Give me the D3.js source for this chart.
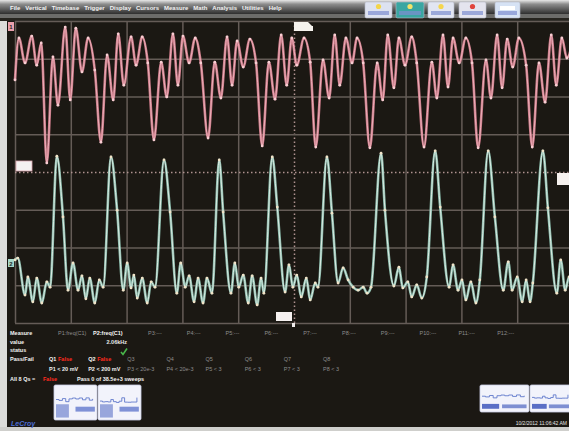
<!DOCTYPE html>
<html>
<head>
<meta charset="utf-8">
<script src="https://cdn.jsdelivr.net/npm/d3@7"></script>
<style>
  body { margin: 0; background: #1a1813; }
  svg { display: block; }
  text { font-family: "Liberation Sans", Arial, sans-serif; }
</style>
</head>
<body>
<svg id="scope" width="569" height="431"></svg>
<script>
// ---- Channel 1 (pink): time in divisions, amplitude in divisions ----
const c1Time = [0.00,0.07,0.18,0.30,0.39,0.47,0.57,0.68,0.77,0.90,0.99,1.09,1.20,1.31,1.43,1.54,
  1.65,1.76,1.85,1.95,2.08,2.17,2.28,2.38,2.49,2.62,2.72,2.83,2.92,3.01,3.12,3.23,3.33,
  3.46,3.58,3.69,3.80,3.89,3.98,4.09,4.21,4.32,4.43,4.55,4.66,4.77,4.87,4.96,5.05,5.18,5.29,
  5.39,5.52,5.63,5.73,5.82,5.93,6.04,6.13,6.24,6.36,6.49,6.59,6.68,6.79,6.88,6.99,7.11,7.20,
  7.33,7.47,7.56,7.67,7.76,7.85,7.96,8.08,8.19,8.30,8.44,8.53,8.64,8.73,8.82,8.92,9.03,9.16,
  9.27,9.39,9.50,9.61,9.70,9.80,9.89,10.00];
const c1Volts = [2.44,3.55,2.89,3.60,2.83,3.42,0.24,3.05,1.77,3.84,1.91,3.81,2.65,3.55,2.70,0.79,
  3.10,1.91,3.66,2.30,3.58,2.83,3.58,2.89,0.85,2.91,1.99,3.66,2.30,3.60,2.89,3.55,2.89,
  0.90,2.91,1.96,3.58,2.30,3.47,2.78,3.52,2.89,0.69,2.91,1.93,3.63,2.30,3.55,2.83,3.55,2.91,
  0.66,2.97,1.96,3.63,2.30,3.55,2.89,3.55,2.89,0.64,2.89,1.91,3.63,2.23,3.55,2.83,3.58,2.89,
  0.66,2.91,1.96,3.63,2.25,3.55,2.89,3.55,2.89,0.64,2.97,1.96,3.63,2.23,3.52,2.78,3.55,2.83,
  0.66,2.89,1.85,3.63,2.30,3.55,3.02,3.50];

// ---- Channel 2 (aqua): time in divisions, amplitude in divisions ----
const c2Time = [0.00,0.05,0.18,0.23,0.32,0.39,0.48,0.57,0.63,0.75,0.86,0.95,1.04,1.13,1.20,1.27,
  1.34,1.43,1.51,1.58,1.72,1.83,1.94,2.01,2.08,2.13,2.19,2.28,2.37,2.44,2.51,2.67,2.78,2.90,
  2.97,3.05,3.12,3.21,3.28,3.37,3.44,3.53,3.66,3.73,3.87,3.94,4.01,4.09,4.18,4.25,4.34,4.41,
  4.46,4.61,4.70,4.84,4.91,4.98,5.05,5.13,5.22,5.29,5.38,5.43,5.59,5.68,5.79,5.88,5.97,6.06,
  6.15,6.24,6.31,6.38,6.56,6.63,6.79,6.88,6.95,7.04,7.11,7.20,7.29,7.38,7.53,7.62,7.78,7.85,
  7.94,8.01,8.08,8.17,8.26,8.33,8.48,8.60,8.75,8.84,8.91,9.00,9.09,9.16,9.23,9.28,9.46,9.55,
  9.71,9.78,9.86,9.93,10.00];
const c2Volts = [-2.33,-2.28,-3.26,-2.78,-3.44,-2.81,-3.47,-2.91,-3.05,0.42,-1.19,-3.13,-2.41,-3.13,
  -2.75,-3.36,-2.81,-3.47,-2.86,-3.05,0.40,-1.01,-3.13,-2.41,-3.07,-2.73,-3.34,-2.81,-3.47,-2.91,
  -3.05,0.32,-1.06,-3.21,-2.41,-3.05,-2.75,-3.44,-2.81,-3.47,-2.81,-3.21,0.32,-1.06,-3.21,-2.41,
  -3.05,-2.73,-3.47,-2.75,-3.52,-2.81,-3.21,0.40,-0.93,-3.18,-2.46,-3.05,-2.73,-3.31,-2.81,-3.39,
  -2.94,-3.05,0.40,-1.09,-2.94,-2.54,-2.86,-3.05,-3.13,-3.05,-3.21,-3.05,0.50,-1.01,-3.02,-2.52,
  -3.07,-2.91,-3.31,-2.99,-3.34,-2.78,0.56,-0.93,-3.05,-2.46,-3.13,-2.86,-3.39,-2.91,-3.47,-2.86,
  0.56,-1.19,-3.13,-2.38,-3.13,-2.78,-3.44,-2.86,-3.44,-2.94,0.56,-0.95,-3.21,-2.33,-3.13,-2.78,-3.13];

// ---- Graticule divisions ----
const timeDivisions = d3.range(0, 11);
const voltDivisions = d3.range(-4, 5);

// ---- Menu and measurement panel text ----
const menuItems = ["File","Vertical","Timebase","Trigger","Display","Cursors","Measure","Math","Analysis","Utilities","Help"];
const measureParams = ["P1:freq(C1)","P2:freq(C1)","P3:---","P4:---","P5:---","P6:---","P7:---","P8:---","P9:---","P10:---","P11:---","P12:---"];
const measureValues = ["","2.06kHz","","","","","","","","","",""];
const passFailTests = ["Q1","Q2","Q3","Q4","Q5","Q6","Q7","Q8"];
const testResults = ["False","False","","","","","",""];
const testConditions = ["P1 < 20 mV","P2 < 200 mV","P3 < 20e-3","P4 < 20e-3","P5 < 3","P6 < 3","P7 < 3","P8 < 3"];
const rowLabels = ["Measure","value","status","Pass/Fail"];
const timestamp = "10/2/2012 11:06:42 AM";

const svg = d3.select("#scope");
const W = 569, H = 431;

// screen background
svg.append("rect").attr("width", W).attr("height", H).attr("fill", "#1b1813");

// left light frame strip and bottom edge
svg.append("rect").attr("x", 0).attr("y", 0).attr("width", 7).attr("height", H).attr("fill", "#dcdcda");
svg.append("rect").attr("x", 0).attr("y", 427).attr("width", W).attr("height", 4).attr("fill", "#cfcfcc");

// ---- Menu bar ----
const defs = svg.append("defs");
const mg = defs.append("linearGradient").attr("id", "menuGrad").attr("x1", 0).attr("x2", 0).attr("y1", 0).attr("y2", 1);
mg.append("stop").attr("offset", "0%").attr("stop-color", "#e8e8e8");
mg.append("stop").attr("offset", "30%").attr("stop-color", "#8c8c8c");
mg.append("stop").attr("offset", "100%").attr("stop-color", "#2e2e2e");
svg.append("rect").attr("x", 0).attr("y", 0).attr("width", W).attr("height", 14).attr("fill", "url(#menuGrad)");
svg.append("rect").attr("x", 0).attr("y", 14).attr("width", W).attr("height", 4).attr("fill", "#6c6c6a");
svg.append("rect").attr("x", 0).attr("y", 18).attr("width", W).attr("height", 3).attr("fill", "#26241f");

const menuG = svg.append("g");
let mx = 10;
menuItems.forEach(m => {
  const t = menuG.append("text").attr("x", mx).attr("y", 10)
    .attr("font-size", 6).attr("font-weight", "bold").attr("fill", "#f4f4f4").text(m);
  mx += t.node().getComputedTextLength() + 5;
});

// toolbar icons
const icons = [
  {x: 365, w: 27, bg: "#dde2f0", dot: "#f3d54a"},
  {x: 396, w: 28, bg: "#3aa6a2", dot: "#f3e36a"},
  {x: 428, w: 26, bg: "#e2e6f2", dot: "#f5d64e"},
  {x: 459, w: 27, bg: "#e4e4ee", dot: "#e0443c"},
  {x: 495, w: 25, bg: "#d6e2f4", dot: null}
];
icons.forEach(ic => {
  const g = svg.append("g");
  g.append("rect").attr("x", ic.x).attr("y", 2).attr("width", ic.w).attr("height", 16)
    .attr("rx", 1.5).attr("fill", ic.bg).attr("stroke", "#b9bccb").attr("stroke-width", 0.6);
  if (ic.dot) g.append("circle").attr("cx", ic.x + ic.w / 2).attr("cy", 6.5).attr("r", 2.6).attr("fill", ic.dot);
  g.append("rect").attr("x", ic.x + 3).attr("y", 11).attr("width", ic.w - 6).attr("height", 4).attr("fill", "#7d8fd0").attr("opacity", 0.7);
  if (!ic.dot) g.append("rect").attr("x", ic.x + 5).attr("y", 6).attr("width", ic.w - 10).attr("height", 4).attr("fill", "#ffffff");
});

// ---- Graticule ----
const x = d3.scaleLinear().domain([0, 10]).range([15, 573]);
const y = d3.scaleLinear().domain([-4, 4]).range([323, 21]);

const gridV = svg.append("g").attr("transform", `translate(0,${y(-4)})`)
  .call(d3.axisBottom(x).tickValues(timeDivisions).tickSize(-(y(-4) - y(4))).tickFormat(""));
const gridH = svg.append("g").attr("transform", `translate(${x(0)},0)`)
  .call(d3.axisLeft(y).tickValues(voltDivisions).tickSize(-(x(10) - x(0))).tickFormat(""));
[gridV, gridH].forEach(g => {
  g.select(".domain").remove();
  g.selectAll(".tick line").attr("stroke", "#655c57").attr("stroke-width", 1.5);
});
// centre lines are drawn dotted
gridV.selectAll(".tick").filter(d => d === 5).select("line")
  .attr("stroke", "#b09290").attr("stroke-dasharray", "1.5,2.5");
gridH.selectAll(".tick").filter(d => d === 0).select("line")
  .attr("stroke", "#b09290").attr("stroke-dasharray", "1.5,2.5");

// ---- Traces ----
function drawTrace(times, volts, outer, inner, dot) {
  const pts = times.map((t, i) => [t, volts[i]]);
  const line = d3.line().x(d => x(d[0])).y(d => y(d[1])).curve(d3.curveMonotoneX);
  const g = svg.append("g");
  g.append("path").datum(pts).attr("d", line).attr("fill", "none")
    .attr("stroke", outer).attr("stroke-width", 2.6).attr("stroke-linejoin", "round").attr("opacity", 0.9);
  g.append("path").datum(pts).attr("d", line).attr("fill", "none")
    .attr("stroke", inner).attr("stroke-width", 0.9).attr("stroke-linejoin", "round");
  g.selectAll("circle").data(pts).join("circle")
    .attr("cx", d => x(d[0])).attr("cy", d => y(d[1])).attr("r", 1.4).attr("fill", dot);
}
drawTrace(c1Time, c1Volts, "#da8392", "#f1b4be", "#f8cdd2");
drawTrace(c2Time, c2Volts, "#93c8b8", "#e3f2ea", "#f1e3c8");

// ---- Screen markers ----
// channel tags on the left edge
svg.append("rect").attr("x", 8).attr("y", 22).attr("width", 6).attr("height", 9).attr("fill", "#e9a1ad");
svg.append("text").attr("x", 11).attr("y", 29).attr("text-anchor", "middle").attr("font-size", 6)
  .attr("font-weight", "bold").attr("fill", "#2a1a1c").text("1");
svg.append("rect").attr("x", 8).attr("y", 259).attr("width", 6).attr("height", 8).attr("fill", "#a7d6c7");
svg.append("text").attr("x", 11).attr("y", 265.5).attr("text-anchor", "middle").attr("font-size", 6)
  .attr("font-weight", "bold").attr("fill", "#1a2a25").text("2");
// trigger level tags
svg.append("rect").attr("x", 16).attr("y", 161).attr("width", 16).attr("height", 10).attr("fill", "#f4f1f0").attr("stroke", "#d9a6ae").attr("stroke-width", 0.8);
svg.append("rect").attr("x", 557).attr("y", 173).attr("width", 12).attr("height", 12).attr("fill", "#f6f1ee");
// trigger position tags
svg.append("path").attr("d", "M294,22 H308 L312,26 H313 V31 H294 Z").attr("fill", "#f6f3ee");
svg.append("rect").attr("x", 276).attr("y", 312).attr("width", 16).attr("height", 9).attr("fill", "#f6f1f0");
svg.append("rect").attr("x", 292).attr("y", 323).attr("width", 3).attr("height", 4).attr("fill", "#f0ecec");

// ---- Measurement panel ----
const panel = svg.append("g").attr("font-size", 5.5);
const rowY = [335, 344, 352, 361];
rowLabels.forEach((r, i) => {
  panel.append("text").attr("x", 10).attr("y", rowY[i]).attr("font-weight", "bold").attr("fill", "#f2f2f2").text(r);
});
const paramX = i => i === 0 ? 58 : i === 1 ? 93 : 148 + (i - 2) * 38.8;
measureParams.forEach((p, i) => {
  panel.append("text").attr("x", paramX(i)).attr("y", 335)
    .attr("fill", i === 1 ? "#f4f4f4" : "#8d8d8d").attr("font-weight", i === 1 ? "bold" : "normal").text(p);
  if (measureValues[i]) panel.append("text").attr("x", paramX(i) + 34).attr("y", 344)
    .attr("text-anchor", "end").attr("font-weight", "bold").attr("fill", "#e8e8e8").text(measureValues[i]);
});
// status check mark
svg.append("path").attr("d", "M121,352 L123,354.5 L127,348.5").attr("fill", "none")
  .attr("stroke", "#49b64a").attr("stroke-width", 1.6);

const qx = d3.scaleLinear().domain([0, 7]).range([49, 323]);
passFailTests.forEach((q, i) => {
  const active = testResults[i] !== "";
  panel.append("text").attr("x", qx(i)).attr("y", 361)
    .attr("fill", active ? "#f4f4f4" : "#8d8d8d").attr("font-weight", active ? "bold" : "normal").text(q);
  if (active) panel.append("text").attr("x", qx(i) + 9).attr("y", 361)
    .attr("fill", "#ff2a1e").attr("font-weight", "bold").text(testResults[i]);
  panel.append("text").attr("x", qx(i)).attr("y", 371)
    .attr("fill", active ? "#f0f0f0" : "#8d8d8d").attr("font-weight", active ? "bold" : "normal").text(testConditions[i]);
});
panel.append("text").attr("x", 10).attr("y", 381).attr("font-weight", "bold").attr("fill", "#f2f2f2").text("All 8 Qs =");
panel.append("text").attr("x", 43).attr("y", 381).attr("font-weight", "bold").attr("fill", "#ff2a1e").text("False");
panel.append("text").attr("x", 77).attr("y", 381).attr("font-weight", "bold").attr("fill", "#f2f2f2").text("Pass 0 of 38.5e+3 sweeps");

// ---- Trace descriptor thumbnails (miniature trace overview) ----
function thumbnail(bx, by, bw, bh, times, volts, labelBand) {
  const g = svg.append("g");
  g.append("rect").attr("x", bx).attr("y", by).attr("width", bw).attr("height", bh)
    .attr("rx", 1.5).attr("fill", "#f2f3fb").attr("stroke", "#c9cde6").attr("stroke-width", 0.8);
  const tx = d3.scaleLinear().domain([0, 10]).range([bx + 2, bx + bw - 2]);
  const ty = d3.scaleLinear().domain(d3.extent(volts)).range([by + bh * 0.5, by + bh * 0.36]);
  const pts = times.filter((t, i) => i % 8 === 0).map(t => [t, volts[times.indexOf(t)]]);
  g.append("path").datum(pts)
    .attr("d", d3.line().x(d => tx(d[0])).y(d => ty(d[1])).curve(d3.curveStepAfter))
    .attr("fill", "none").attr("stroke", "#6179cc").attr("stroke-width", 0.9);
  if (labelBand) {
    g.append("rect").attr("x", bx + 2).attr("y", by + bh * 0.55).attr("width", bw * 0.3).attr("height", bh * 0.38).attr("fill", "#98a6dc");
    g.append("rect").attr("x", bx + bw * 0.5).attr("y", by + bh * 0.62).attr("width", bw * 0.45).attr("height", bh * 0.14).attr("fill", "#7f91d6");
  } else {
    g.append("rect").attr("x", bx + 2).attr("y", by + bh * 0.7).attr("width", bw * 0.35).attr("height", bh * 0.18).attr("fill", "#5a6fc6");
    g.append("rect").attr("x", bx + bw * 0.45).attr("y", by + bh * 0.72).attr("width", bw * 0.5).attr("height", bh * 0.14).attr("fill", "#7e8fd2");
  }
}
thumbnail(54, 385, 43, 35, c1Time, c1Volts, true);
thumbnail(98, 385, 43, 35, c2Time, c2Volts, true);
thumbnail(480, 385, 49, 27, c1Time, c1Volts, false);
thumbnail(530, 385, 42, 27, c2Time, c2Volts, false);

// ---- Brand and timestamp ----
svg.append("text").attr("x", 11).attr("y", 426).attr("font-size", 7).attr("font-weight", "bold")
  .attr("font-style", "italic").attr("fill", "#4c6fd6").text("LeCroy");
svg.append("text").attr("x", 567).attr("y", 425).attr("text-anchor", "end").attr("font-size", 5)
  .attr("fill", "#e6e6e6").text(timestamp);
</script>
</body>
</html>
